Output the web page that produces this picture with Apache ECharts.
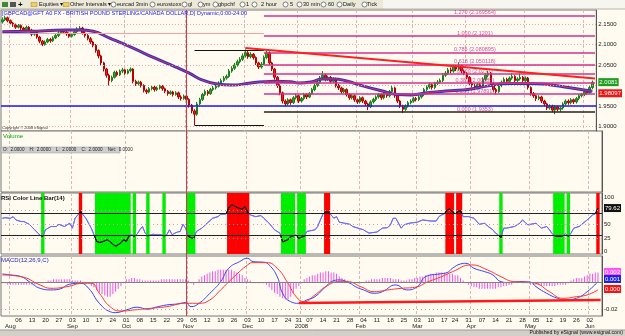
<!DOCTYPE html>
<html>
<head>
<meta charset="utf-8">
<script src="https://cdn.jsdelivr.net/npm/echarts@6/dist/echarts.min.js"></script>
<style>
html, body { margin: 0; padding: 0; background: #fffbf0; }
#main { width: 625px; height: 336px; }
</style>
</head>
<body>
<div id="main"></div>
<script>
// trading days, daily bars GBPCAD
var holidays = ['2007-12-25', '2008-01-01', '2008-03-21'];
var dates = [];
for (var t = Date.UTC(2007, 6, 27); t <= Date.UTC(2008, 5, 5); t += 86400000) {
    var d = new Date(t);
    var s = d.toISOString().slice(0, 10);
    if (d.getUTCDay() === 0 || d.getUTCDay() === 6 || holidays.indexOf(s) >= 0) continue;
    dates.push(s);
}
dates.push('');

// [open, close, low, high]
var candles = [
[2.155,2.160,2.151,2.166],[2.160,2.165,2.157,2.170],[2.165,2.158,2.154,2.168],[2.158,2.152,2.148,2.161],[2.152,2.148,2.143,2.155],
[2.148,2.142,2.138,2.151],[2.142,2.146,2.139,2.150],[2.146,2.140,2.135,2.149],[2.140,2.136,2.131,2.143],[2.136,2.142,2.133,2.146],
[2.142,2.135,2.131,2.145],[2.135,2.125,2.120,2.138],[2.125,2.130,2.121,2.134],[2.130,2.118,2.114,2.133],[2.118,2.108,2.103,2.121],
[2.108,2.100,2.096,2.111],[2.100,2.106,2.097,2.110],[2.106,2.112,2.103,2.116],[2.112,2.109,2.104,2.116],[2.109,2.116,2.106,2.120],
[2.116,2.122,2.113,2.126],[2.122,2.128,2.118,2.132],[2.128,2.133,2.125,2.137],[2.133,2.130,2.126,2.137],[2.130,2.126,2.121,2.134],
[2.126,2.120,2.116,2.129],[2.120,2.124,2.117,2.128],[2.124,2.131,2.121,2.135],[2.131,2.138,2.128,2.142],[2.138,2.140,2.133,2.145],
[2.140,2.128,2.124,2.143],[2.128,2.122,2.117,2.132],[2.122,2.114,2.110,2.125],[2.114,2.106,2.101,2.118],[2.106,2.098,2.093,2.109],
[2.098,2.085,2.080,2.101],[2.085,2.072,2.066,2.088],[2.072,2.055,2.050,2.075],[2.055,2.040,2.034,2.058],[2.040,2.025,2.019,2.043],
[2.025,2.012,2.000,2.029],[2.012,2.020,2.008,2.024],[2.020,2.032,2.017,2.036],[2.032,2.026,2.022,2.036],[2.026,2.035,2.023,2.039],
[2.035,2.038,2.030,2.043],[2.038,2.030,2.026,2.041],[2.030,2.036,2.027,2.040],[2.036,2.040,2.032,2.044],[2.040,2.010,2.005,2.042],
[2.010,2.004,1.999,2.014],[2.004,2.008,2.000,2.012],[2.008,2.000,1.995,2.011],[2.000,1.988,1.983,2.003],[1.988,1.984,1.979,1.992],
[1.984,1.992,1.981,1.996],[1.992,1.996,1.988,2.000],[1.996,1.990,1.985,1.999],[1.990,1.994,1.986,1.998],[1.994,1.998,1.990,2.002],
[1.998,1.992,1.987,2.001],[1.992,1.986,1.981,1.995],[1.986,1.980,1.975,1.989],[1.980,1.984,1.977,1.988],[1.984,1.978,1.973,1.987],
[1.978,1.982,1.975,1.986],[1.982,1.972,1.967,1.985],[1.972,1.968,1.963,1.976],[1.968,1.974,1.965,1.978],[1.974,1.966,1.961,1.977],
[1.966,1.952,1.946,1.969],[1.952,1.938,1.932,1.955],[1.938,1.930,1.903,1.942],[1.930,1.955,1.926,1.960],[1.955,1.966,1.951,1.970],
[1.966,1.978,1.962,1.982],[1.978,1.985,1.974,1.990],[1.985,1.980,1.975,1.989],[1.980,1.990,1.977,1.994],[1.990,1.994,1.986,1.999],
[1.994,1.998,1.990,2.003],[1.998,2.005,1.995,2.010],[2.005,2.012,2.001,2.017],[2.012,2.018,2.008,2.023],[2.018,2.022,2.014,2.027],
[2.022,2.035,2.019,2.040],[2.035,2.042,2.031,2.047],[2.042,2.050,2.038,2.055],[2.050,2.058,2.046,2.063],[2.058,2.064,2.054,2.069],
[2.064,2.072,2.060,2.078],[2.072,2.080,2.068,2.088],[2.080,2.070,2.065,2.084],[2.070,2.076,2.066,2.081],[2.076,2.068,2.063,2.079],
[2.068,2.055,2.050,2.071],[2.055,2.045,2.040,2.058],[2.045,2.052,2.041,2.057],[2.052,2.068,2.049,2.073],[2.068,2.080,2.064,2.086],
[2.080,2.055,2.050,2.083],[2.055,2.040,2.035,2.058],[2.040,2.020,2.014,2.043],[2.020,2.000,1.994,2.023],[2.000,1.982,1.976,2.003],
[1.982,1.962,1.956,1.985],[1.962,1.955,1.949,1.966],[1.955,1.965,1.951,1.969],[1.965,1.958,1.953,1.968],[1.958,1.970,1.955,1.974],
[1.970,1.975,1.966,1.980],[1.975,1.962,1.957,1.978],[1.962,1.968,1.958,1.972],[1.968,1.978,1.964,1.982],[1.978,1.972,1.967,1.981],
[1.972,1.980,1.969,1.984],[1.980,1.990,1.977,1.994],[1.990,2.000,1.986,2.005],[2.000,2.008,1.996,2.013],[2.008,2.018,2.004,2.023],
[2.018,2.025,2.014,2.035],[2.025,2.015,2.010,2.029],[2.015,2.020,2.011,2.024],[2.020,2.010,2.005,2.023],[2.010,2.016,2.006,2.020],
[2.016,2.000,1.995,2.019],[2.000,1.994,1.989,2.004],[1.994,1.985,1.980,1.997],[1.985,1.990,1.981,1.994],[1.990,1.978,1.973,1.993],
[1.978,1.970,1.965,1.981],[1.970,1.975,1.966,1.979],[1.975,1.965,1.960,1.978],[1.965,1.960,1.955,1.968],[1.960,1.970,1.956,1.974],
[1.970,1.962,1.957,1.973],[1.962,1.955,1.950,1.965],[1.955,1.948,1.940,1.958],[1.948,1.960,1.945,1.964],[1.960,1.966,1.956,1.970],
[1.966,1.972,1.962,1.976],[1.972,1.978,1.968,1.982],[1.978,1.970,1.965,1.981],[1.970,1.980,1.966,1.984],[1.980,1.975,1.970,1.983],
[1.975,1.985,1.971,1.989],[1.985,1.994,1.981,2.000],[1.994,1.975,1.970,1.997],[1.975,1.962,1.957,1.978],[1.962,1.950,1.945,1.965],
[1.950,1.942,1.933,1.953],[1.942,1.950,1.938,1.954],[1.950,1.958,1.946,1.962],[1.958,1.962,1.954,1.966],[1.962,1.968,1.958,1.972],
[1.968,1.966,1.961,1.972],[1.966,1.972,1.962,1.976],[1.972,1.978,1.968,1.982],[1.978,1.990,1.974,1.994],[1.990,1.996,1.986,2.000],
[1.996,2.002,1.992,2.007],[2.002,1.995,1.990,2.005],[1.995,2.005,1.991,2.009],[2.005,2.008,2.001,2.013],[2.008,2.012,2.004,2.017],
[2.012,2.025,2.008,2.030],[2.025,2.030,2.021,2.035],[2.030,2.038,2.026,2.043],[2.038,2.035,2.030,2.044],[2.035,2.045,2.031,2.050],
[2.045,2.040,2.035,2.050],[2.040,2.048,2.036,2.057],[2.048,2.035,2.030,2.051],[2.035,2.030,2.025,2.039],[2.030,2.020,2.015,2.033],
[2.020,2.005,2.000,2.023],[2.005,2.000,1.995,2.009],[2.000,1.995,1.990,2.004],[1.995,2.002,1.991,2.006],[2.002,1.998,1.993,2.006],
[1.998,2.015,1.995,2.020],[2.015,2.025,2.011,2.030],[2.025,2.030,2.020,2.036],[2.030,2.005,2.000,2.033],[2.005,1.990,1.985,2.008],
[1.990,1.985,1.978,1.994],[1.985,2.000,1.982,2.004],[2.000,2.008,1.996,2.012],[2.008,2.015,2.004,2.020],[2.015,2.010,2.005,2.019],
[2.010,2.018,2.006,2.022],[2.018,2.022,2.014,2.030],[2.022,2.012,2.007,2.025],[2.012,2.016,2.008,2.020],[2.016,2.020,2.012,2.029],
[2.020,2.012,2.007,2.023],[2.012,2.018,2.008,2.022],[2.018,1.995,1.990,2.021],[1.995,1.980,1.975,1.998],[1.980,1.975,1.970,1.984],
[1.975,1.968,1.962,1.978],[1.968,1.972,1.964,1.976],[1.972,1.962,1.957,1.975],[1.962,1.955,1.950,1.965],[1.955,1.945,1.940,1.958],
[1.945,1.950,1.941,1.954],[1.950,1.940,1.935,1.953],[1.940,1.948,1.930,1.952],[1.948,1.942,1.937,1.951],[1.942,1.945,1.936,1.949],
[1.945,1.955,1.941,1.959],[1.955,1.962,1.951,1.966],[1.962,1.958,1.953,1.966],[1.958,1.965,1.954,1.969],[1.965,1.960,1.955,1.968],
[1.960,1.968,1.956,1.972],[1.968,1.975,1.964,1.979],[1.975,1.978,1.971,1.982],[1.978,1.985,1.974,1.989],[1.985,1.982,1.977,1.989],
[1.982,1.995,1.979,1.999],[1.995,2.008,1.991,2.012]
];

// moving average [dayIndex, value]
var maLine = [[0,2.131],[10,2.132],[24,2.135],[29,2.135],[34,2.132],[40,2.116],[49,2.091],[57,2.067],[65,2.045],[70,2.030],
[75,2.013],[80,2.004],[86,2.001],[93,2.006],[98,2.009],[102,2.010],[108,2.009],[111,2.006],[116,2.009],[120,2.016],[124,2.016],
[129,2.011],[135,1.999],[142,1.987],[148,1.978],[153,1.977],[160,1.983],[168,1.987],[175,1.991],[182,1.999],[190,2.005],
[197,2.005],[205,2.002],[212,1.995],[218,1.989],[221,1.986]];

var priceTicks = [1.90, 1.95, 2.05, 2.10, 2.15];
var priceGridLevels = [1.90, 1.95, 2.00, 2.05, 2.10, 2.15];
var lastPrice = 2.0081;
var lastMa = 1.98097;

// fibonacci levels drawn from day 98
var fibRatios = ['1.270', '1.000', '0.786', '0.618', '0.500', '0.382', '0.236', '0.000'];
var fibValues = [2.169564, 2.1201, 2.080895, 2.050118, 2.0277, 2.00589, 1.97891, 1.9353];
var fibStart = 98;
var trendLine = [[91, 2.0915], [222, 2.017]];
var supportLine = 1.947;
var oldLevel = 2.127;
var boxTop = 2.087, boxBottom = 1.903, boxFrom = 72;

// RSI(14) [dayIndex, value]
var rsiLine = [[0,61],[1,62],[3,61],[4,64],[5,58],[7,55],[8,55],[10,50],[12,40],[14,30],[15,28],[16,40],[18,46],[20,46],
[21,50],[23,46],[25,52],[26,43],[27,61],[29,73],[30,67],[31,61],[32,52],[33,43],[34,31],[35,19],[36,17],[37,18],[39,22],
[40,18],[41,14],[42,10],[44,16],[45,22],[46,19],[47,29],[48,31],[49,28],[50,32],[51,40],[52,46],[53,34],[54,29],[55,31],
[56,32],[57,31],[58,31],[59,31],[60,29],[61,31],[62,40],[63,31],[64,34],[65,36],[66,37],[67,50],[68,43],[69,28],[70,26],
[71,24],[72,37],[74,43],[76,52],[78,61],[80,64],[81,68],[83,69],[84,80],[85,85],[86,84],[87,81],[88,79],[89,78],[90,82],
[91,72],[92,67],[94,64],[96,66],[97,61],[99,52],[100,46],[101,40],[103,34],[104,18],[105,20],[106,22],[107,28],[108,29],
[109,31],[110,24],[111,27],[112,28],[113,37],[114,38],[116,40],[117,46],[118,58],[119,69],[120,73],[121,72],[122,67],
[123,61],[124,64],[125,54],[127,52],[129,50],[130,46],[132,43],[134,40],[136,34],[139,36],[141,43],[143,44],[144,49],
[145,61],[146,61],[148,43],[149,49],[151,52],[154,54],[156,58],[159,56],[161,56],[162,64],[163,67],[164,69],[165,76],
[166,78],[167,73],[168,69],[169,73],[170,75],[171,64],[173,64],[175,61],[177,50],[179,52],[180,47],[182,40],[183,34],
[184,31],[185,26],[186,43],[187,43],[190,46],[192,52],[193,58],[195,49],[196,50],[198,52],[200,43],[202,46],[203,40],
[204,33],[205,29],[206,28],[207,28],[208,29],[209,33],[210,28],[211,34],[212,43],[214,46],[217,58],[219,67],[220,69],[221,79.6]];
var lastRsi = 79.62;
// colour bars: [firstDay, lastDay, 'g' oversold | 'r' overbought]
var rsiBands = [[15,15,'g'],[29,29,'r'],[35,47,'g'],[49,49,'g'],[54,54,'g'],[60,60,'g'],[69,71,'g'],[84,91,'r'],
[104,108,'g'],[110,112,'g'],[120,121,'r'],[165,167,'r'],[169,170,'r'],[185,185,'g'],[205,208,'g'],[210,210,'g'],[221,221,'r']];

// MACD(12,26,9)
var macdLine = [[0,0.0059],[3,0.0052],[7,0.0039],[10,0.0002],[14,-0.0047],[18,-0.0059],[21,-0.0054],[25,-0.0017],[29,-0.0010],
[32,-0.0047],[36,-0.0158],[40,-0.0220],[42,-0.0227],[46,-0.0207],[50,-0.0187],[54,-0.0202],[57,-0.0187],[61,-0.0170],
[65,-0.0163],[68,-0.0153],[70,-0.0183],[73,-0.0158],[77,-0.0084],[81,0.0002],[84,0.0101],[88,0.0150],[91,0.0175],
[93,0.0150],[97,0.0146],[99,0.0126],[102,0.0039],[104,-0.0084],[107,-0.0146],[110,-0.0158],[113,-0.0133],[116,-0.0109],
[120,-0.0035],[123,0.0010],[125,0.0015],[129,-0.0010],[131,-0.0035],[134,-0.0059],[138,-0.0084],[141,-0.0072],
[146,-0.0022],[150,-0.0059],[154,-0.0035],[157,0.0039],[162,0.0059],[165,0.0069],[167,0.0101],[170,0.0133],[172,0.0138],
[175,0.0101],[179,0.0076],[182,0.0052],[185,0.0002],[188,-0.0005],[192,0.0002],[196,-0.0002],[198,-0.0035],[202,-0.0084],
[206,-0.0121],[209,-0.0133],[213,-0.0121],[217,-0.0072],[221,0.0002]];
var signalLine = [[0,0.0052],[7,0.0039],[14,-0.0022],[18,-0.0047],[24,-0.0035],[30,-0.0010],[33,-0.0010],[36,-0.0084],
[40,-0.0183],[44,-0.0215],[49,-0.0207],[55,-0.0195],[61,-0.0183],[68,-0.0158],[73,-0.0158],[77,-0.0133],[81,-0.0059],
[86,0.0039],[91,0.0126],[93,0.0143],[98,0.0143],[102,0.0101],[106,-0.0010],[109,-0.0109],[112,-0.0146],[116,-0.0096],
[120,-0.0035],[125,0.0002],[128,0.0002],[133,-0.0035],[138,-0.0072],[143,-0.0059],[148,-0.0047],[153,-0.0040],[158,0.0002],
[163,0.0039],[167,0.0076],[174,0.0126],[180,0.0089],[185,0.0039],[190,0.0002],[195,-0.0002],[198,-0.0010],[203,-0.0072],
[208,-0.0121],[213,-0.0109],[217,-0.0096],[221,-0.0059]];
var macdHist = [
-0.001,-0.001,-0.002,-0.002,-0.002,-0.002,-0.002,-0.002,-0.002,-0.002,
-0.002,-0.002,-0.002,-0.001,-0.001,-0.001,0.000,0.001,0.001,0.002,
0.002,0.002,0.002,0.002,0.002,0.002,0.001,0.001,0.001,0.001,
0.000,-0.001,-0.001,-0.003,-0.004,-0.006,-0.008,-0.009,-0.010,-0.011,
-0.011,-0.009,-0.007,-0.005,-0.003,-0.001,0.002,0.002,0.003,0.003,
0.002,0.002,0.001,0.001,0.001,0.001,0.001,0.001,0.001,0.002,
0.002,0.002,0.002,0.002,0.002,0.002,0.002,0.002,0.002,0.001,
-0.001,-0.002,0.000,0.002,0.004,0.005,0.006,0.007,0.008,0.008,
0.009,0.009,0.009,0.009,0.009,0.009,0.008,0.007,0.006,0.005,
0.003,0.002,0.001,-0.001,-0.001,-0.001,-0.001,-0.001,-0.002,-0.004,
-0.006,-0.008,-0.009,-0.011,-0.012,-0.013,-0.013,-0.011,-0.008,-0.005,
-0.003,-0.001,0.002,0.003,0.004,0.005,0.005,0.006,0.007,0.007,
0.008,0.008,0.007,0.007,0.006,0.004,0.003,0.002,0.001,0.000,
-0.001,-0.001,-0.001,-0.001,0.000,0.001,0.001,0.002,0.002,0.002,
0.002,0.003,0.003,0.003,0.003,0.002,0.002,0.002,0.001,0.001,
0.001,0.002,0.002,0.003,0.003,0.004,0.004,0.005,0.005,0.006,
0.006,0.007,0.007,0.007,0.007,0.006,0.006,0.006,0.005,0.005,
0.003,0.001,-0.001,-0.002,-0.003,-0.004,-0.004,-0.005,-0.005,-0.005,
-0.005,-0.005,-0.005,-0.005,-0.004,-0.004,-0.003,-0.003,-0.002,-0.002,
-0.001,-0.001,0.000,-0.001,-0.001,-0.001,-0.002,-0.002,-0.002,-0.002,
-0.003,-0.003,-0.003,-0.003,-0.003,-0.003,-0.002,-0.002,-0.002,-0.002,
-0.001,0.001,0.002,0.003,0.003,0.003,0.004,0.005,0.006,0.006,
0.007,0.007
];
var macdTrend = [[110, -0.0155], [222, -0.0133]];
var macdBoxes = [[0.0074, '0.002', 'm'], [0.0022, '0.001', 'b'], [-0.0052, '0.000', 'r']];
var cursorDay = 69;

var FONT = 'Liberation Sans, Arial, sans-serif';
var monthNames = ['2008', 'Feb', 'Mar', 'Apr', 'May', 'Jun', 'Jul', 'Aug', 'Sep', 'Oct', 'Nov', 'Dec'];

function isMonday(i) {
    // no label for the partial first week
    return i > 2 && !!dates[i] && new Date(dates[i] + 'T00:00:00Z').getUTCDay() === 1;
}
function isMonthStart(i) {
    return i > 0 && !!dates[i] && dates[i].slice(0, 7) !== dates[i - 1].slice(0, 7);
}

function xAxisFor(grid) {
    return {
        type: 'category', gridIndex: grid, data: dates, boundaryGap: true,
        axisLine: { show: false }, axisTick: { show: false },
        axisLabel: { show: false },
        splitLine: {
            show: true,
            interval: function (i) { return isMonthStart(i); },
            lineStyle: { color: '#dcb8b8', type: [3, 2], width: 1 }
        }
    };
}

var xAxes = [xAxisFor(0), xAxisFor(1), xAxisFor(2), xAxisFor(3)];
xAxes[3].axisLabel = {
    show: true, fontSize: 6, fontFamily: FONT, color: '#222', margin: 1,
    interval: function (i) { return isMonday(i); },
    formatter: function (v) { return v ? v.slice(8, 10) : ''; }
};
xAxes.push({
    type: 'category', gridIndex: 3, data: dates, boundaryGap: true, position: 'bottom', offset: 6,
    axisLine: { show: false }, axisTick: { show: false }, splitLine: { show: false },
    axisLabel: {
        show: true, fontSize: 6, fontFamily: FONT, color: '#222', margin: 1,
        interval: function (i) { return isMonthStart(i); },
        formatter: function (v) { return v ? monthNames[parseInt(v.slice(5, 7), 10) - 1] : ''; }
    }
});

var boxRich = {
    n: { fontSize: 6, fontFamily: FONT, color: '#222' },
    g: { fontSize: 6, fontFamily: FONT, color: '#fff', backgroundColor: '#1e9e1e', padding: [1, 1] },
    r: { fontSize: 6, fontFamily: FONT, color: '#fff', backgroundColor: '#ee1515', padding: [1, 1] },
    k: { fontSize: 6, fontFamily: FONT, color: '#fff', backgroundColor: '#111', padding: [1, 1] },
    m: { fontSize: 6, fontFamily: FONT, color: '#fff', backgroundColor: '#ff55ff', padding: [1, 1] },
    b: { fontSize: 6, fontFamily: FONT, color: '#fff', backgroundColor: '#2222dd', padding: [1, 1] }
};

var yAxes = [
    {
        type: 'value', gridIndex: 0, position: 'right', min: 1.889, max: 2.184,
        axisLine: { show: true, lineStyle: { color: '#555' } }, axisTick: { show: false }, splitLine: { show: false },
        axisLabel: {
            customValues: priceTicks.concat([lastMa, lastPrice]), margin: 2, rich: boxRich,
            formatter: function (v) {
                if (Math.abs(v - lastPrice) < 1e-7) return '{g|' + lastPrice.toFixed(4) + '}';
                if (Math.abs(v - lastMa) < 1e-7) return '{r|' + lastMa.toFixed(5) + '}';
                return '{n|' + v.toFixed(4) + '}';
            }
        }
    },
    {
        type: 'value', gridIndex: 1, position: 'right', min: 0, max: 1,
        axisLine: { show: true, lineStyle: { color: '#555' } }, axisTick: { show: false },
        splitLine: { show: false }, axisLabel: { show: false }
    },
    {
        type: 'value', gridIndex: 2, position: 'right', min: -4, max: 107,
        axisLine: { show: true, lineStyle: { color: '#555' } }, axisTick: { show: false }, splitLine: { show: false },
        axisLabel: {
            customValues: [0, 25, 50, 100, lastRsi], margin: 2, rich: boxRich,
            formatter: function (v) {
                if (Math.abs(v - lastRsi) < 1e-7) return '{k|' + lastRsi.toFixed(2) + '}';
                return '{n|' + v + '}';
            }
        }
    },
    { type: 'value', gridIndex: 2, min: 0, max: 1, show: false },
    {
        type: 'value', gridIndex: 3, position: 'right', min: -0.0252, max: 0.0192,
        axisLine: { show: true, lineStyle: { color: '#555' } }, axisTick: { show: false }, splitLine: { show: false },
        axisLabel: {
            customValues: [-0.02].concat(macdBoxes.map(function (b) { return b[0]; })), margin: 2, rich: boxRich,
            formatter: function (v) {
                for (var i = 0; i < macdBoxes.length; i++) {
                    if (Math.abs(v - macdBoxes[i][0]) < 1e-9) return '{' + macdBoxes[i][2] + '|' + macdBoxes[i][1] + '}';
                }
                return '{n|' + v.toFixed(2) + '}';
            }
        }
    }
];

// price panel reference lines
var priceMarks = [];
priceGridLevels.forEach(function (v) {
    priceMarks.push({ yAxis: v, lineStyle: { color: '#e2a8a8', type: [1, 2], width: 1 } });
});
priceMarks.push([{ coord: [0, oldLevel], lineStyle: { color: '#f2a4a4', width: 1, type: 'solid' } }, { coord: [fibStart, oldLevel] }]);
priceMarks.push({ yAxis: supportLine, lineStyle: { color: '#1a1aee', width: 1.5, type: 'solid' } });
fibValues.forEach(function (v, i) {
    var col = fibRatios[i] === '0.000' ? '#222' : '#d2338c';
    priceMarks.push([{ coord: [fibStart, v], lineStyle: { color: col, width: 1.5, type: 'solid' } }, { coord: [222, v] }]);
});
priceMarks.push([{ coord: [boxFrom, boxTop], lineStyle: { color: '#111', width: 1.2, type: 'solid' } }, { coord: [fibStart, boxTop] }]);
priceMarks.push([{ coord: [boxFrom, boxBottom], lineStyle: { color: '#111', width: 1.2, type: 'solid' } }, { coord: [fibStart, boxBottom] }]);
priceMarks.push([{ coord: trendLine[0], lineStyle: { color: '#ff2020', width: 2, type: 'solid' } }, { coord: trendLine[1] }]);

var bandData = dates.map(function () { return '-'; });
rsiBands.forEach(function (b) {
    for (var i = b[0]; i <= b[1]; i++) {
        bandData[i] = { value: 1, itemStyle: { color: b[2] === 'g' ? '#00ee00' : '#ff0000' } };
    }
});

var option = {
    animation: false,
    backgroundColor: '#fffbf0',
    grid: [
        { left: 1, right: 23, top: 10, height: 121, show: true, borderColor: '#777', borderWidth: 1, backgroundColor: '#fffbf0' },
        { left: 1, right: 23, top: 131, height: 61, show: true, borderColor: '#777', borderWidth: 1, backgroundColor: '#fffbf0' },
        { left: 1, right: 23, top: 193, height: 61, show: true, borderColor: '#777', borderWidth: 1, backgroundColor: '#fffbf0' },
        { left: 1, right: 23, top: 256, height: 60, show: true, borderColor: '#777', borderWidth: 1, backgroundColor: '#fffbf0' }
    ],
    xAxis: xAxes,
    yAxis: yAxes,
    visualMap: [{
        type: 'piecewise', show: false, seriesIndex: 6, dimension: 1,
        pieces: [{ lt: 30, color: '#000' }, { gte: 30, lt: 70, color: '#6b6bff' }, { gte: 70, color: '#000' }]
    }],
    series: [
        {
            type: 'candlestick', xAxisIndex: 0, yAxisIndex: 0, data: candles, barWidth: 2,
            itemStyle: { color: '#22aa22', color0: '#ee1c1c', borderColor: '#1b7d1b', borderColor0: '#b50000', borderWidth: 1 },
            markLine: { silent: true, symbol: ['none', 'none'], label: { show: false }, data: priceMarks }
        },
        {
            type: 'line', xAxisIndex: 0, yAxisIndex: 0, data: maLine, smooth: true, symbol: 'none',
            lineStyle: { color: '#2233dd', width: 3 }
        },
        {
            type: 'line', xAxisIndex: 0, yAxisIndex: 0, data: maLine, smooth: true, symbol: 'none',
            lineStyle: { color: '#ff2a2a', width: 1 }
        },
        {
            type: 'scatter', xAxisIndex: 0, yAxisIndex: 0, symbolSize: 0, silent: true,
            data: fibValues.map(function (v) { return [177, v]; }),
            label: {
                show: true, position: 'top', distance: 0, fontSize: 5.5, fontFamily: FONT,
                formatter: function (p) {
                    return fibRatios[p.dataIndex] + ' (' + fibValues[p.dataIndex] + ')';
                },
                color: '#cc2288'
            }
        },
        { type: 'line', xAxisIndex: 1, yAxisIndex: 1, data: [] },
        {
            type: 'bar', xAxisIndex: 2, yAxisIndex: 3, data: bandData, barWidth: 3.4, silent: true
        },
        {
            type: 'line', xAxisIndex: 2, yAxisIndex: 2, data: rsiLine, symbol: 'none',
            lineStyle: { width: 1 },
            markLine: {
                silent: true, symbol: ['none', 'none'], label: { show: false },
                data: [
                    { yAxis: 25, lineStyle: { color: '#cfa0a0', type: [1, 3], width: 1 } },
                    { yAxis: 50, lineStyle: { color: '#cfa0a0', type: [1, 3], width: 1 } },
                    { yAxis: 75, lineStyle: { color: '#cfa0a0', type: [1, 3], width: 1 } },
                    { yAxis: 30, lineStyle: { color: '#222', type: 'solid', width: 1 } },
                    { yAxis: 70, lineStyle: { color: '#222', type: 'solid', width: 1 } }
                ]
            }
        },
        {
            type: 'bar', xAxisIndex: 3, yAxisIndex: 4, data: macdHist, barWidth: 1,
            itemStyle: { color: '#ee55ee' },
            markLine: {
                silent: true, symbol: ['none', 'none'], label: { show: false },
                data: [
                    { yAxis: 0, lineStyle: { color: '#808080', type: 'solid', width: 1.2 } },
                    { yAxis: -0.02, lineStyle: { color: '#b0a0a0', type: [1, 3], width: 1 } }
                ]
            }
        },
        {
            type: 'line', xAxisIndex: 3, yAxisIndex: 4, data: macdLine, smooth: true, symbol: 'none',
            lineStyle: { color: '#3344ff', width: 1 }
        },
        {
            type: 'line', xAxisIndex: 3, yAxisIndex: 4, data: signalLine, smooth: true, symbol: 'none',
            lineStyle: { color: '#ff3333', width: 1 }
        },
        {
            type: 'line', xAxisIndex: 3, yAxisIndex: 4, data: macdTrend, symbol: 'none',
            lineStyle: { color: '#ff1a1a', width: 2.5 }
        }
    ]
};

var chart = echarts.init(document.getElementById('main'));
chart.setOption(option);

// chrome: toolbar, titles, status bar and the cursor line
var cursorX = chart.convertToPixel({ xAxisIndex: 0 }, cursorDay);
var toolbarItems = [['Equities \u25be', 39], ['Other Intervals \u25be', 70], ['eurcad 3min', 117], ['eurostoxx', 157],
    ['gl', 188], ['ym', 203], ['gbpchf', 218], ['1', 246], ['2 hour', 261], ['5', 290], ['30 min', 303],
    ['60', 328], ['Daily', 343], ['Tick', 367]];
var iconsX = [111, 150, 182, 198, 213, 240, 252, 283, 297, 321, 337, 362];

var graphics = [
    { type: 'rect', shape: { x: 0, y: 0, width: 625, height: 9 }, style: { fill: '#ece9d8' }, z: 100 },
    { type: 'rect', shape: { x: 383, y: 0, width: 242, height: 9 }, style: { fill: '#f6f5f0' }, z: 100 },
    { type: 'line', shape: { x1: 0, y1: 9, x2: 625, y2: 9 }, style: { stroke: '#b8b4a8', lineWidth: 1 }, z: 100 },
    { type: 'rect', shape: { x: 2, y: 2, width: 6, height: 5 }, style: { fill: '#3c8a3c' }, z: 101 },
    { type: 'rect', shape: { x: 10, y: 2, width: 6, height: 5 }, style: { fill: '#555' }, z: 101 },
    { type: 'text', x: 18, y: 4.5, style: { text: '+', fontSize: 8, fontWeight: 'bold', fill: '#000', verticalAlign: 'middle' }, z: 101 },
    { type: 'rect', shape: { x: 31, y: 2.5, width: 6, height: 4 }, style: { fill: '#f0d060', stroke: '#a08020', lineWidth: 0.5 }, z: 101 },
    { type: 'rect', shape: { x: 63, y: 2.5, width: 6, height: 4 }, style: { fill: '#f0d060', stroke: '#a08020', lineWidth: 0.5 }, z: 101 },
    { type: 'line', shape: { x1: cursorX, y1: 10, x2: cursorX, y2: 316 }, style: { stroke: '#c23a4a', lineWidth: 1 }, z: 50 },
    { type: 'text', x: 2, y: 10.5, style: { text: '[GBPCAD@GFT A0 FX - BRITISH POUND STERLING/CANADA DOLLAR,D] Dynamic,0:00-24:00', fontSize: 5.6, fontFamily: FONT, fill: '#1a1aff' }, z: 101 },
    { type: 'text', x: 2, y: 126, style: { text: 'Copyright \u00a9 2008 eSignal', fontSize: 4, fontFamily: FONT, fill: '#333' }, z: 101 },
    { type: 'text', x: 3, y: 133, style: { text: 'Volume', fontSize: 6, fontFamily: FONT, fill: '#00aa00' }, z: 101 },
    { type: 'rect', shape: { x: 1, y: 147, width: 119, height: 6 }, style: { fill: '#cfcfcf', stroke: '#999', lineWidth: 0.5 }, z: 101 },
    { type: 'text', x: 3, y: 147.5, style: { text: 'O:  2.0000    H:  2.0000    L:  2.0000    C:  2.0000    Net:  0.0000', fontSize: 4.6, fontFamily: FONT, fill: '#222' }, z: 102 },
    { type: 'text', x: 1, y: 195, style: { text: 'RSI Color Line Bar(14)', fontSize: 6, fontWeight: 'bold', fontFamily: FONT, fill: '#111' }, z: 101 },
    { type: 'text', x: 1, y: 257, style: { text: 'MACD(12,26,9,C)', fontSize: 6, fontFamily: FONT, fill: '#2020cc' }, z: 101 },
    { type: 'rect', shape: { x: 0, y: 330, width: 625, height: 6 }, style: { fill: '#d4d0c8' }, z: 100 },
    { type: 'line', shape: { x1: 0, y1: 330, x2: 625, y2: 330 }, style: { stroke: '#999', lineWidth: 1 }, z: 101 },
    { type: 'text', x: 623, y: 330.5, style: { text: 'Published by eSignal (www.esignal.com)', fontSize: 5.2, fontFamily: FONT, fill: '#111', align: 'right' }, z: 101 }
];
iconsX.forEach(function (x) {
    graphics.push({ type: 'circle', shape: { cx: x + 2.5, cy: 4.5, r: 2.5 }, style: { fill: '#fff', stroke: '#333', lineWidth: 0.6 }, z: 101 });
});
toolbarItems.forEach(function (it) {
    graphics.push({ type: 'text', x: it[1], y: 4.5, style: { text: it[0], fontSize: 5.6, fontFamily: FONT, fill: '#111', verticalAlign: 'middle' }, z: 101 });
});
chart.setOption({ graphic: graphics });
</script>
</body>
</html>
